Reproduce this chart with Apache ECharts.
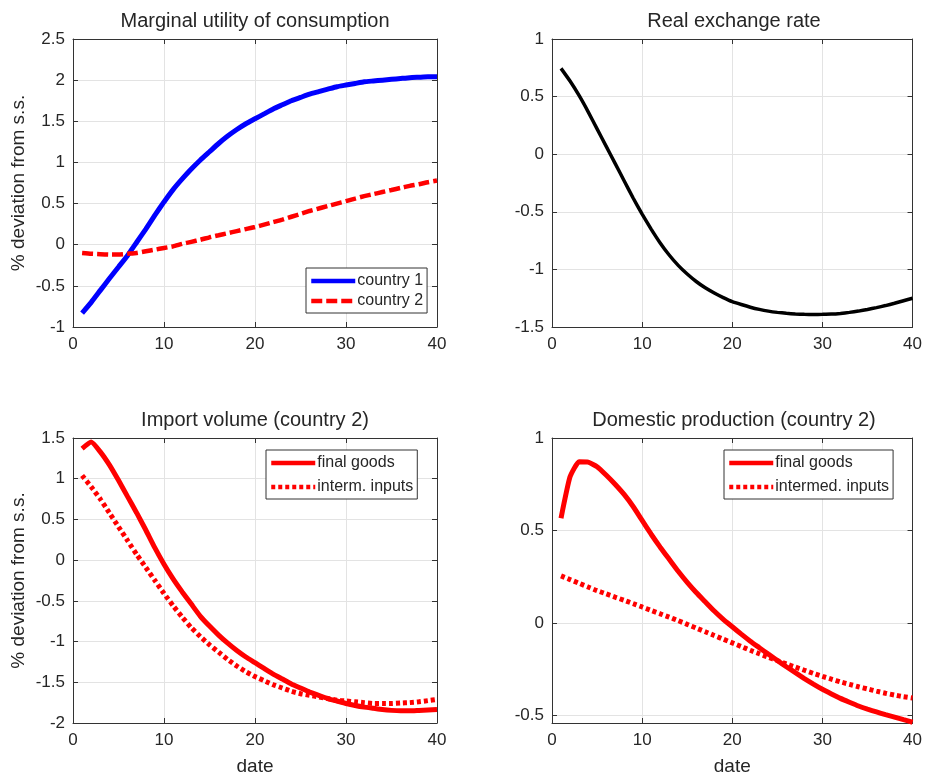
<!DOCTYPE html>
<html><head><meta charset="utf-8">
<script src="https://cdn.jsdelivr.net/npm/echarts@6/dist/echarts.min.js"></script>
<style>html,body{margin:0;padding:0;background:#fff}#c{width:925px;height:778px}</style>
</head><body><div id="c"></div>
<script>
const dates = [1,2,3,4,5,6,7,8,9,10,11,12,13,14,15,16,17,18,19,20,21,22,23,24,25,26,27,28,29,30,31,32,33,34,35,36,37,38,39,40];
const xTicks = [0,10,20,30,40];

const titles = ['Marginal utility of consumption','Real exchange rate','Import volume (country 2)','Domestic production (country 2)'];

const muCountry1 = [-0.83,-0.70,-0.555,-0.41,-0.27,-0.13,0.03,0.19,0.36,0.52,0.67,0.80,0.92,1.03,1.13,1.23,1.32,1.40,1.47,1.53,1.59,1.65,1.70,1.75,1.79,1.83,1.86,1.89,1.92,1.94,1.96,1.98,1.99,2.00,2.01,2.02,2.03,2.035,2.04,2.04];
const muCountry2 = [-0.10,-0.11,-0.115,-0.12,-0.12,-0.11,-0.10,-0.08,-0.06,-0.04,-0.02,0.01,0.035,0.06,0.09,0.115,0.14,0.165,0.19,0.215,0.245,0.275,0.305,0.34,0.375,0.41,0.44,0.47,0.50,0.53,0.56,0.59,0.615,0.64,0.665,0.69,0.715,0.735,0.76,0.78];
const rer = [0.745,0.635,0.51,0.37,0.22,0.07,-0.08,-0.23,-0.38,-0.52,-0.65,-0.77,-0.875,-0.965,-1.04,-1.105,-1.16,-1.205,-1.245,-1.28,-1.305,-1.328,-1.347,-1.362,-1.373,-1.381,-1.387,-1.39,-1.391,-1.39,-1.388,-1.382,-1.373,-1.362,-1.348,-1.332,-1.314,-1.294,-1.272,-1.25];
const impFinal = [1.37,1.45,1.33,1.17,0.98,0.78,0.58,0.37,0.15,-0.05,-0.23,-0.39,-0.54,-0.69,-0.81,-0.92,-1.02,-1.11,-1.19,-1.26,-1.33,-1.40,-1.46,-1.52,-1.57,-1.62,-1.66,-1.70,-1.73,-1.76,-1.785,-1.805,-1.82,-1.835,-1.845,-1.85,-1.85,-1.845,-1.84,-1.835];
const impInterm = [1.04,0.90,0.75,0.58,0.41,0.24,0.07,-0.09,-0.25,-0.41,-0.56,-0.70,-0.83,-0.94,-1.04,-1.13,-1.22,-1.30,-1.37,-1.43,-1.48,-1.53,-1.57,-1.61,-1.64,-1.66,-1.68,-1.70,-1.72,-1.73,-1.74,-1.75,-1.76,-1.76,-1.76,-1.755,-1.75,-1.74,-1.725,-1.71];
const domFinal = [0.567,0.79,0.872,0.87,0.845,0.80,0.75,0.695,0.63,0.555,0.48,0.41,0.345,0.28,0.22,0.165,0.115,0.065,0.02,-0.02,-0.06,-0.098,-0.133,-0.168,-0.202,-0.236,-0.268,-0.30,-0.33,-0.358,-0.383,-0.407,-0.428,-0.448,-0.465,-0.48,-0.495,-0.508,-0.522,-0.536];
const domInterm = [0.255,0.235,0.215,0.195,0.175,0.158,0.14,0.123,0.105,0.087,0.068,0.05,0.032,0.013,-0.007,-0.027,-0.047,-0.067,-0.087,-0.107,-0.127,-0.147,-0.166,-0.185,-0.203,-0.221,-0.238,-0.255,-0.272,-0.288,-0.303,-0.318,-0.331,-0.344,-0.356,-0.368,-0.379,-0.389,-0.398,-0.405];

const yTicksMu = [-1,-0.5,0,0.5,1,1.5,2,2.5];
const yTicksRer = [-1.5,-1,-0.5,0,0.5,1];
const yTicksImp = [-2,-1.5,-1,-0.5,0,0.5,1,1.5];
const yTicksDom = [-0.5,0,0.5,1];
const yLimits = [[-1,2.5],[-1.5,1],[-2,1.5],[-0.54,1]];
const yTickSets = [yTicksMu, yTicksRer, yTicksImp, yTicksDom];

const FONT = "'Liberation Sans', Arial, Helvetica, sans-serif";
const TXT = '#262626';
const AX = '#333333';
const GRIDC = '#e3e3e3';

const grids = [
  {left:73, top:39, width:364, height:288},
  {left:552, top:39, width:364, height:288},
  {left:73, top:438, width:364, height:285},
  {left:552, top:438, width:364, height:285}
];

const pairs = arr => dates.map((d,i)=>[d, arr[i]]);

const xAxes = [], yAxes = [];
grids.forEach((g,i)=>{
  const isBottom = i >= 2;
  xAxes.push({
    type:'value', gridIndex:i, position:'bottom', min:xTicks[0], max:xTicks[xTicks.length-1], interval:10,
    name: isBottom ? 'date' : '', nameLocation:'middle', nameGap:34,
    nameTextStyle:{fontFamily:FONT, fontSize:19, color:TXT},
    axisLine:{show:true, onZero:false, lineStyle:{color:AX, width:1}},
    axisTick:{show:true, inside:true, length:5, lineStyle:{color:AX}},
    axisLabel:{show:true, margin:9, fontFamily:FONT, fontSize:17, color:TXT},
    splitLine:{show:true, lineStyle:{color:GRIDC, width:1}}
  });
  xAxes.push({
    type:'value', gridIndex:i, position:'top', min:xTicks[0], max:xTicks[xTicks.length-1], interval:10,
    axisLine:{show:true, onZero:false, lineStyle:{color:AX, width:1}},
    axisTick:{show:true, inside:true, length:5, lineStyle:{color:AX}},
    axisLabel:{show:false}, splitLine:{show:false}
  });
  const lim = yLimits[i];
  const ticks = yTickSets[i];
  const yBase = { type:'value', gridIndex:i, min:lim[0], max:lim[1], interval:0.5 };
  const showName = (i === 0 || i === 2);
  yAxes.push(Object.assign({}, yBase, {
    position:'left',
    name: showName ? '% deviation from s.s.' : '', nameLocation:'middle', nameGap:45, nameRotate:90,
    nameTextStyle:{fontFamily:FONT, fontSize:19, color:TXT},
    axisLine:{show:true, onZero:false, lineStyle:{color:AX, width:1}},
    axisTick:{show:true, inside:true, length:5, lineStyle:{color:AX}, customValues: i===3 ? ticks : undefined},
    axisLabel:{show:true, margin:8, fontFamily:FONT, fontSize:17, color:TXT, customValues: i===3 ? ticks : undefined},
    splitLine:{show:true, lineStyle:{color:GRIDC, width:1}}
  }));
  yAxes.push(Object.assign({}, yBase, {
    position:'right',
    axisLine:{show:true, onZero:false, lineStyle:{color:AX, width:1}},
    axisTick:{show:true, inside:true, length:5, lineStyle:{color:AX}, customValues: i===3 ? ticks : undefined},
    axisLabel:{show:false}, splitLine:{show:false}
  }));
});

function lineSeries(name, data, gi, color, width, dash) {
  return {
    type:'line', name:name, xAxisIndex:gi*2, yAxisIndex:gi*2, data:pairs(data),
    symbol:'none', showSymbol:false, silent:true, animation:false, smooth:0.15,
    lineStyle:{color:color, width:width, type:dash || 'solid', cap:'butt'},
    itemStyle:{color:color}
  };
}

const series = [
  lineSeries('country 1', muCountry1, 0, '#0000ff', 5),
  lineSeries('country 2', muCountry2, 0, '#ff0000', 4.5, [11,4]),
  lineSeries('Real exchange rate', rer, 1, '#000000', 3.5),
  lineSeries('final goods', impFinal, 2, '#ff0000', 5),
  lineSeries('interm. inputs', impInterm, 2, '#ff0000', 5, [4,3]),
  lineSeries('final goods', domFinal, 3, '#ff0000', 5),
  lineSeries('intermed. inputs', domInterm, 3, '#ff0000', 5, [4,3])
];

function legend(names, left, top, gap) {
  return {
    data:names, orient:'vertical', left:left, top:top, itemGap:gap,
    itemWidth:44, itemHeight:14, itemStyle:{opacity:0},
    lineStyle:{width:4.5},
    padding:[5,4,4,3], borderColor:AX, borderWidth:1, backgroundColor:'#fff',
    textStyle:{fontFamily:FONT, fontSize:16, color:TXT, lineHeight:16, padding:[0,0,0,-3]},
    selectedMode:false
  };
}

const option = {
  animation:false,
  backgroundColor:'#ffffff',
  title: grids.map((g,i)=>({
    text:titles[i], left:g.left + g.width/2, top: i<2 ? 11 : 410, textAlign:'center', padding:0,
    textStyle:{fontFamily:FONT, fontSize:20, fontWeight:'normal', color:TXT}
  })),
  legend:[
    legend(['country 1','country 2'], 306, 268, 4),
    legend(['final goods','interm. inputs'], 266, 450, 8),
    legend(['final goods','intermed. inputs'], 724, 450, 8)
  ],
  grid: grids,
  xAxis: xAxes,
  yAxis: yAxes,
  series: series
};

const chart = echarts.init(document.getElementById('c'), null, {renderer:'canvas'});
chart.setOption(option);
</script>
</body></html>
